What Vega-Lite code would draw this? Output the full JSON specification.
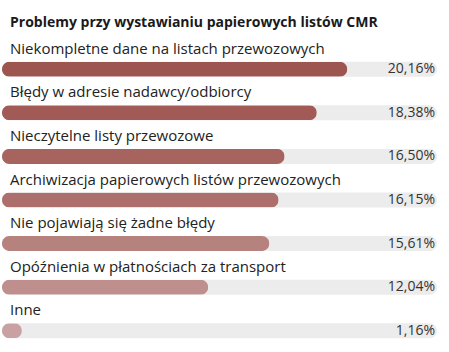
{
  "$schema": "https://vega.github.io/schema/vega-lite/v6.json",
  "width": 435,
  "height": 305,
  "autosize": {"type": "none"},
  "padding": {"left": 2, "top": 37, "right": 12, "bottom": 10},
  "background": "#ffffff",
  "config": {
    "view": {"stroke": null},
    "font": "Open Sans",
    "locale": {"number": {"decimal": ",", "thousands": " ", "grouping": [3], "currency": ["", " zł"]}}
  },
  "title": {
    "text": "Problemy przy wystawianiu papierowych listów CMR",
    "anchor": "start",
    "font": "Open Sans",
    "fontSize": 14,
    "fontWeight": "bold",
    "color": "#1a1a1a",
    "dx": 8,
    "offset": 7
  },
  "data": {
    "values": [
      {"kategoria": "Niekompletne dane na listach przewozowych", "pct": 0.2016},
      {"kategoria": "Błędy w adresie nadawcy/odbiorcy", "pct": 0.1838},
      {"kategoria": "Nieczytelne listy przewozowe", "pct": 0.1650},
      {"kategoria": "Archiwizacja papierowych listów przewozowych", "pct": 0.1615},
      {"kategoria": "Nie pojawiają się żadne błędy", "pct": 0.1561},
      {"kategoria": "Opóźnienia w płatnościach za transport", "pct": 0.1204},
      {"kategoria": "Inne", "pct": 0.0116}
    ]
  },
  "encoding": {
    "y": {"field": "kategoria", "type": "nominal", "sort": null, "axis": null, "scale": {"paddingInner": 0, "paddingOuter": 0}}
  },
  "layer": [
    {
      "mark": {"type": "bar", "height": 15, "cornerRadius": 7.5, "yOffset": 10.5, "color": "#ececec"},
      "encoding": {
        "x": {"datum": 0, "type": "quantitative", "scale": {"domain": [0, 0.254], "nice": false}, "axis": null},
        "x2": {"value": "width"}
      }
    },
    {
      "mark": {"type": "bar", "height": 15, "cornerRadius": 7.5, "yOffset": 10.5},
      "encoding": {
        "x": {"field": "pct", "type": "quantitative", "scale": {"domain": [0, 0.254], "nice": false}, "axis": null},
        "color": {
          "field": "kategoria", "type": "nominal", "legend": null,
          "scale": {
            "domain": ["Niekompletne dane na listach przewozowych", "Błędy w adresie nadawcy/odbiorcy", "Nieczytelne listy przewozowe", "Archiwizacja papierowych listów przewozowych", "Nie pojawiają się żadne błędy", "Opóźnienia w płatnościach za transport", "Inne"],
            "range": ["#9d5550", "#a15a56", "#a7645f", "#ac6f6b", "#b6827e", "#bf8f8e", "#c9a1a2"]
          }
        }
      }
    },
    {
      "mark": {"type": "text", "align": "right", "baseline": "middle", "yOffset": 10.5, "dx": -2, "fontSize": 14, "color": "#333333", "font": "Open Sans"},
      "encoding": {
        "x": {"value": "width"},
        "text": {"field": "pct", "type": "quantitative", "format": ".2%"}
      }
    },
    {
      "mark": {"type": "text", "align": "left", "baseline": "middle", "yOffset": -10, "dx": 8, "fontSize": 15, "color": "#222222", "font": "Open Sans"},
      "encoding": {
        "x": {"datum": 0, "type": "quantitative"},
        "text": {"field": "kategoria", "type": "nominal"}
      }
    }
  ]
}
